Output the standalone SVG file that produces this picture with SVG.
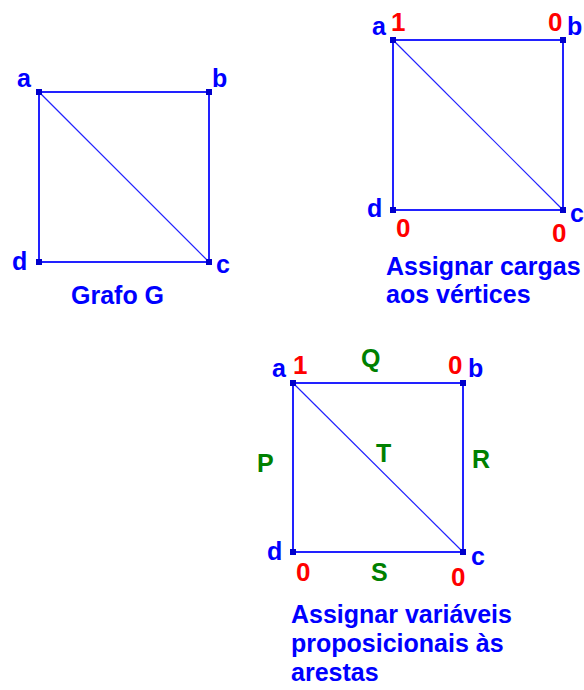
<svg xmlns="http://www.w3.org/2000/svg" width="584" height="690" viewBox="0 0 584 690">
<style>
text{font-family:"Liberation Sans",Arial,sans-serif;font-weight:bold}
.lbl{fill:#0000ff;font-size:25px}
.cap{fill:#0000ff;font-size:25px}
.w{fill:#ff0000;font-size:26px}
.v{fill:#008000;font-size:25px}
.e{stroke:#2222ff;stroke-width:2;fill:none}
.dg{stroke:#2222ff;stroke-width:1.2;fill:none}
.dot{fill:#0000cc}
</style>
<rect width="584" height="690" fill="#ffffff"/>

<!-- Graph G -->
<g id="graph1">
<g id="g1-connectors">
<line class="e" x1="39" y1="92" x2="209" y2="92"/>
<line class="e" x1="209" y1="92" x2="209" y2="262"/>
<line class="e" x1="209" y1="262" x2="39" y2="262"/>
<line class="e" x1="39" y1="262" x2="39" y2="92"/>
<line class="dg" x1="39" y1="92" x2="209" y2="262"/>
</g>
<g id="g1-a"><rect class="dot" x="36" y="89" width="6" height="6"/><text class="lbl" x="17" y="87">a</text></g>
<g id="g1-b"><rect class="dot" x="206" y="89" width="6" height="6"/><text class="lbl" x="212" y="87">b</text></g>
<g id="g1-c"><rect class="dot" x="206" y="259" width="6" height="6"/><text class="lbl" x="216" y="273">c</text></g>
<g id="g1-d"><rect class="dot" x="36" y="259" width="6" height="6"/><text class="lbl" x="12" y="270">d</text></g>
<text class="cap" x="71" y="304">Grafo G</text>
</g>

<!-- Graph 2 -->
<g id="graph2">
<g id="g2-connectors">
<line class="e" x1="393" y1="40" x2="563" y2="40"/>
<line class="e" x1="563" y1="40" x2="563" y2="210"/>
<line class="e" x1="563" y1="210" x2="393" y2="210"/>
<line class="e" x1="393" y1="210" x2="393" y2="40"/>
<line class="dg" x1="393" y1="40" x2="563" y2="210"/>
</g>
<g id="g2-a"><rect class="dot" x="390" y="37" width="6" height="6"/><text class="lbl" x="372" y="35">a</text><text class="w" x="391" y="31">1</text></g>
<g id="g2-b"><rect class="dot" x="560" y="37" width="6" height="6"/><text class="lbl" x="567" y="35">b</text><text class="w" x="548" y="31">0</text></g>
<g id="g2-c"><rect class="dot" x="560" y="207" width="6" height="6"/><text class="lbl" x="570" y="222">c</text><text class="w" x="552" y="242">0</text></g>
<g id="g2-d"><rect class="dot" x="390" y="207" width="6" height="6"/><text class="lbl" x="367" y="217">d</text><text class="w" x="396" y="237">0</text></g>
<text class="cap" x="386" y="275">Assignar cargas</text>
<text class="cap" x="386" y="303">aos vértices</text>
</g>

<!-- Graph 3 -->
<g id="graph3">
<g id="g3-connectors">
<line class="e" x1="293" y1="383" x2="463" y2="383"/>
<line class="e" x1="463" y1="383" x2="463" y2="552"/>
<line class="e" x1="463" y1="552" x2="293" y2="552"/>
<line class="e" x1="293" y1="552" x2="293" y2="383"/>
<line class="dg" x1="293" y1="383" x2="463" y2="552"/>
<text class="v" x="361" y="367">Q</text>
<text class="v" x="472" y="468">R</text>
<text class="v" x="371" y="581">S</text>
<text class="v" x="257" y="472">P</text>
<text class="v" x="376" y="462">T</text>
</g>
<g id="g3-a"><rect class="dot" x="290" y="380" width="6" height="6"/><text class="lbl" x="272" y="377">a</text><text class="w" x="293" y="374">1</text></g>
<g id="g3-b"><rect class="dot" x="460" y="380" width="6" height="6"/><text class="lbl" x="468" y="377">b</text><text class="w" x="448" y="374">0</text></g>
<g id="g3-c"><rect class="dot" x="460" y="549" width="6" height="6"/><text class="lbl" x="471" y="565">c</text><text class="w" x="451" y="586">0</text></g>
<g id="g3-d"><rect class="dot" x="290" y="549" width="6" height="6"/><text class="lbl" x="267" y="560">d</text><text class="w" x="296" y="581">0</text></g>
<text class="cap" x="291" y="623">Assignar variáveis</text>
<text class="cap" x="291" y="652">proposicionais às</text>
<text class="cap" x="291" y="681">arestas</text>
</g>
</svg>
